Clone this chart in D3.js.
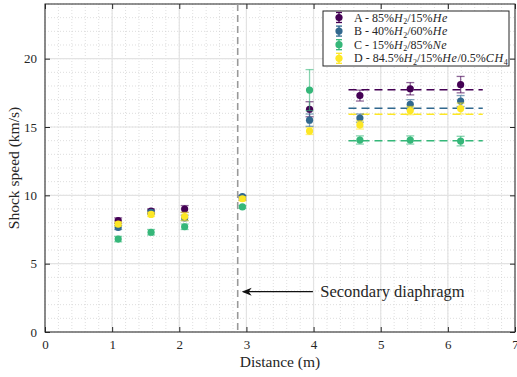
<!DOCTYPE html>
<meta charset="utf-8">
<script src="https://d3js.org/d3.v7.min.js"></script>
<body style="margin:0;background:#fff">
<svg width="517" height="377"></svg>
<script>
// measurement positions (m)
var distance = [1.09, 1.58, 2.08, 2.94, 3.94, 4.69, 5.44, 6.19];

var speedA = [8.15, 8.85, 9.0, 9.8, 16.3, 17.3, 17.8, 18.1];
var errA   = [0.2, 0.15, 0.25, 0.15, 0.55, 0.4, 0.45, 0.6];
var speedB = [7.65, 8.75, 8.35, 9.9, 15.5, 15.65, 16.65, 16.9];
var errB   = [0.15, 0.15, 0.2, 0.1, 0.45, 0.3, 0.35, 0.4];
var speedC = [6.8, 7.3, 7.7, 9.15, 17.7, 14.05, 14.05, 13.97];
var errC   = [0.2, 0.2, 0.2, 0.1, 1.5, 0.3, 0.3, 0.35];
var speedD = [7.9, 8.6, 8.45, 9.75, 14.7, 15.15, 16.2, 16.35];
var errD   = [0.15, 0.15, 0.3, 0.15, 0.25, 0.3, 0.3, 0.4];

var meanSpeed = [17.72, 16.37, 13.99, 15.94];   // A, B, C, D
var meanRange = [4.52, 6.52];

var diaphragmX = 2.87;
var xTicks = [0, 1, 2, 3, 4, 5, 6, 7];
var yTicks = [0, 5, 10, 15, 20];

var colors = ["#440154", "#31688e", "#35b779", "#fde725"];

var series = [
  {key: "A", speed: speedA, err: errA, label: [["A - 85%", ""], ["H", "i"], ["2", "sub"], ["/15%", ""], ["He", "i"]]},
  {key: "B", speed: speedB, err: errB, label: [["B - 40%", ""], ["H", "i"], ["2", "sub"], ["/60%", ""], ["He", "i"]]},
  {key: "C", speed: speedC, err: errC, label: [["C - 15%", ""], ["H", "i"], ["2", "sub"], ["/85%", ""], ["Ne", "i"]]},
  {key: "D", speed: speedD, err: errD, label: [["D - 84.5%", ""], ["H", "i"], ["2", "sub"], ["/15%", ""], ["He", "i"], ["/0.5%", ""], ["CH", "i"], ["4", "sub"]]}
];

var svg = d3.select("svg");
var font = "'Liberation Serif', 'DejaVu Serif', serif";
var pL = 45, pR = 515, pT = 4, pB = 332;

var x = d3.scaleLinear().domain([0, 7]).range([pL, pR]);
var y = d3.scaleLinear().domain([0, 24]).range([pB, pT]);

/* ----------- grid ----------- */
var g = svg.append("g");
g.selectAll("line.minx").data(d3.range(0, 7.01, 0.2)).enter().append("line")
  .attr("x1", d => x(d)).attr("x2", d => x(d)).attr("y1", pT).attr("y2", pB)
  .attr("stroke", "#d0d0d0").attr("stroke-width", 0.7).attr("stroke-dasharray", "1,2");
g.selectAll("line.miny").data(d3.range(0, 24.01, 1)).enter().append("line")
  .attr("y1", d => y(d)).attr("y2", d => y(d)).attr("x1", pL).attr("x2", pR)
  .attr("stroke", "#d0d0d0").attr("stroke-width", 0.7).attr("stroke-dasharray", "1,2");
g.selectAll("line.majx").data(xTicks).enter().append("line")
  .attr("x1", d => x(d)).attr("x2", d => x(d)).attr("y1", pT).attr("y2", pB)
  .attr("stroke", "#e3e3e3").attr("stroke-width", 1.2);
g.selectAll("line.majy").data(yTicks).enter().append("line")
  .attr("y1", d => y(d)).attr("y2", d => y(d)).attr("x1", pL).attr("x2", pR)
  .attr("stroke", "#e3e3e3").attr("stroke-width", 1.2);

/* ----------- axes ----------- */
function styleAxis(sel) {
  sel.select(".domain").remove();
  sel.selectAll("line").attr("stroke", "#262626");
  sel.selectAll("text").attr("font-family", font).attr("font-size", 13).attr("fill", "#262626");
}
svg.append("g").attr("transform", "translate(0," + pB + ")")
  .call(d3.axisBottom(x).tickValues(xTicks).tickFormat(d3.format("d")).tickSizeInner(-5).tickPadding(8))
  .call(styleAxis);
svg.append("g").attr("transform", "translate(0," + pT + ")")
  .call(d3.axisTop(x).tickValues(xTicks).tickFormat("").tickSizeInner(-5))
  .call(styleAxis);
svg.append("g").attr("transform", "translate(" + pL + ",0)")
  .call(d3.axisLeft(y).tickValues(yTicks).tickFormat(d3.format("d")).tickSizeInner(-5).tickPadding(8))
  .call(styleAxis);
svg.append("g").attr("transform", "translate(" + pR + ",0)")
  .call(d3.axisRight(y).tickValues(yTicks).tickFormat("").tickSizeInner(-5))
  .call(styleAxis);
svg.append("rect").attr("x", pL).attr("y", pT).attr("width", pR - pL).attr("height", pB - pT)
  .attr("fill", "none").attr("stroke", "#262626").attr("stroke-width", 1);

svg.append("text").attr("x", (pL + pR) / 2).attr("y", 367).attr("text-anchor", "middle")
  .attr("font-family", font).attr("font-size", 15.5).attr("fill", "#262626").text("Distance (m)");
svg.append("text").attr("transform", "translate(19," + (pT + pB) / 2 + ") rotate(-90)")
  .attr("text-anchor", "middle").attr("font-family", font).attr("font-size", 15.5).attr("fill", "#262626")
  .text("Shock speed (km/s)");

/* ----------- diaphragm ----------- */
svg.append("line").attr("x1", x(diaphragmX)).attr("x2", x(diaphragmX)).attr("y1", pT).attr("y2", pB)
  .attr("stroke", "#999").attr("stroke-width", 1.6).attr("stroke-dasharray", "7,4");

var arrowY = y(2.95);
svg.append("line").attr("x1", x(3.99)).attr("x2", x(diaphragmX) + 6).attr("y1", arrowY).attr("y2", arrowY)
  .attr("stroke", "#111").attr("stroke-width", 1.2);
svg.append("path")
  .attr("transform", "translate(" + (x(diaphragmX) + 4) + "," + arrowY + ")")
  .attr("d", "M0,0 L10,-4 L7,0 L10,4 Z").attr("fill", "#111");
svg.append("text").attr("x", x(4.1)).attr("y", arrowY + 5).attr("font-family", font).attr("font-size", 16.5)
  .attr("fill", "#262626").text("Secondary diaphragm");

/* ----------- mean lines ----------- */
svg.selectAll("line.mean").data(meanSpeed).enter().append("line")
  .attr("x1", x(meanRange[0])).attr("x2", x(meanRange[1]))
  .attr("y1", d => y(d)).attr("y2", d => y(d))
  .attr("stroke", (d, i) => colors[i]).attr("stroke-width", 1.5).attr("stroke-dasharray", "8,5");

/* ----------- points ----------- */
series.forEach(function(s, si) {
  var pts = distance.map((d, i) => ({x: d, v: s.speed[i], e: s.err[i]}));
  var gs = svg.append("g");
  var bars = gs.selectAll("g.eb").data(pts).enter().append("g")
    .attr("stroke", colors[si]).attr("stroke-opacity", 0.6).attr("stroke-width", 1.3);
  bars.append("line").attr("x1", d => x(d.x)).attr("x2", d => x(d.x))
    .attr("y1", d => y(d.v - d.e)).attr("y2", d => y(d.v + d.e));
  bars.append("line").attr("x1", d => x(d.x) - 4).attr("x2", d => x(d.x) + 4)
    .attr("y1", d => y(d.v - d.e)).attr("y2", d => y(d.v - d.e));
  bars.append("line").attr("x1", d => x(d.x) - 4).attr("x2", d => x(d.x) + 4)
    .attr("y1", d => y(d.v + d.e)).attr("y2", d => y(d.v + d.e));
  gs.selectAll("circle").data(pts).enter().append("circle")
    .attr("cx", d => x(d.x)).attr("cy", d => y(d.v)).attr("r", 3.6).attr("fill", colors[si]);
});

/* ----------- legend ----------- */
var lg = svg.append("g").attr("transform", "translate(323,11)");
lg.append("rect").attr("width", 186).attr("height", 55).attr("fill", "#fff")
  .attr("stroke", "#262626").attr("stroke-width", 1);
series.forEach(function(s, i) {
  var cy = 6.5 + i * 13.6;
  lg.append("line").attr("x1", 16).attr("x2", 16).attr("y1", cy - 5).attr("y2", cy + 5)
    .attr("stroke", colors[i]).attr("stroke-width", 1.3);
  lg.append("line").attr("x1", 13).attr("x2", 19).attr("y1", cy - 5).attr("y2", cy - 5)
    .attr("stroke", colors[i]).attr("stroke-width", 1.3);
  lg.append("line").attr("x1", 13).attr("x2", 19).attr("y1", cy + 5).attr("y2", cy + 5)
    .attr("stroke", colors[i]).attr("stroke-width", 1.3);
  lg.append("circle").attr("cx", 16).attr("cy", cy).attr("r", 3.6).attr("fill", colors[i]);
  var t = lg.append("text").attr("x", 31).attr("y", cy + 4).attr("font-family", font)
    .attr("font-size", 12).attr("fill", "#262626");
  s.label.forEach(function(p, k) {
    var ts = t.append("tspan").text(p[0]);
    if (p[1] === "i") ts.attr("font-style", "italic").attr("letter-spacing", 0.6);
    if (p[1] === "sub") ts.attr("font-size", 8).attr("dy", 2.5);
    if (k > 0 && s.label[k - 1][1] === "sub") ts.attr("dy", -2.5);
  });
});
</script>
</body>
